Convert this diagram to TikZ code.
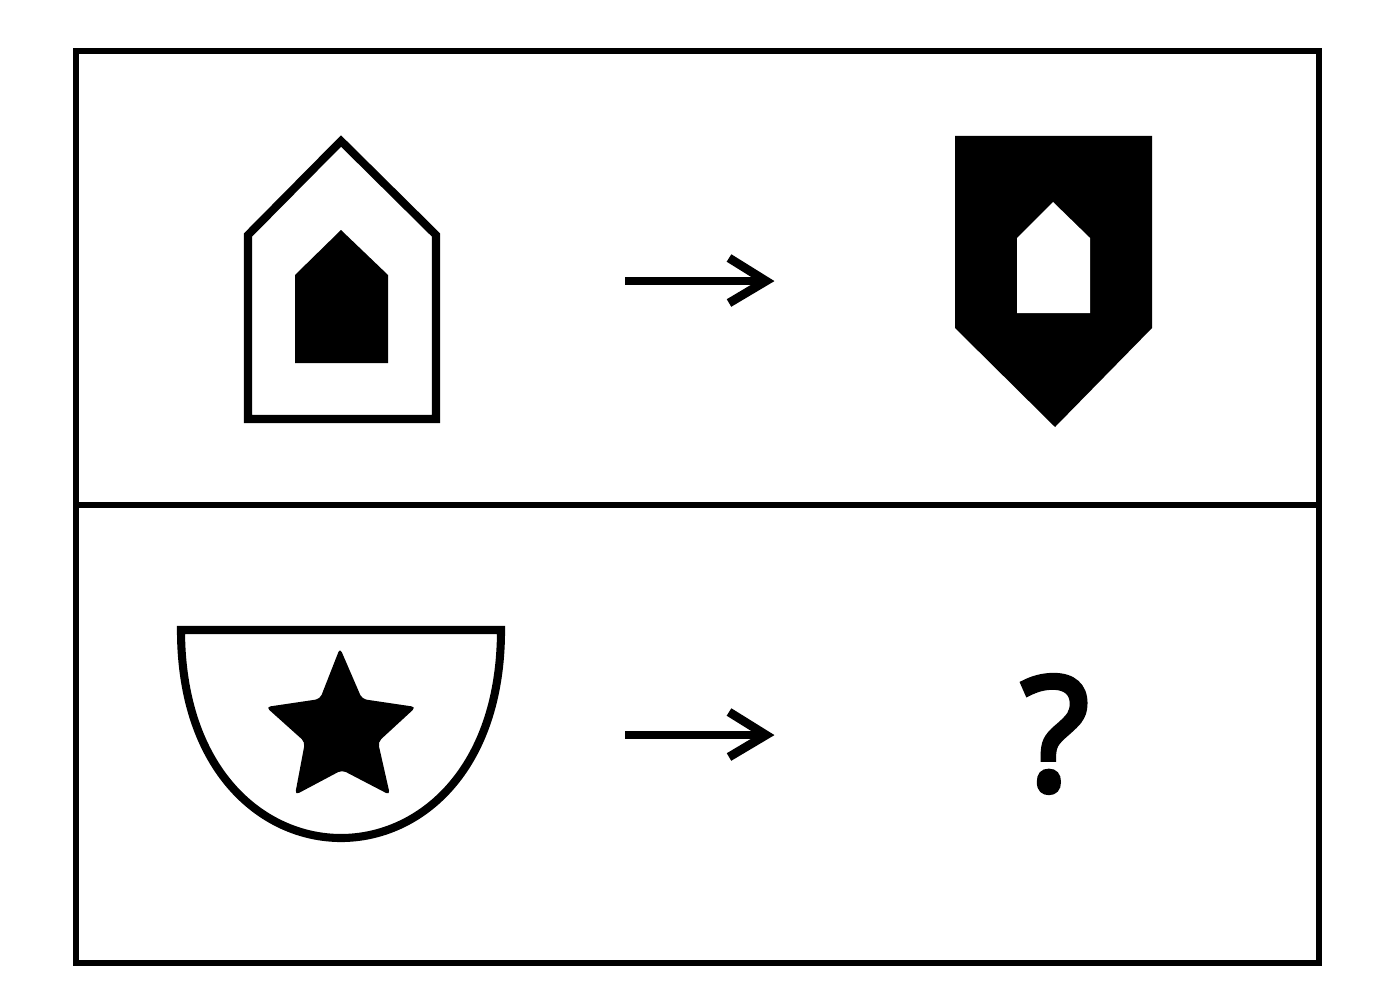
\documentclass[tikz,border=0pt]{standalone}
\usepackage{fontspec}
\newfontfamily\qfont[FakeBold=3.5]{Open Sans}
\begin{document}
\begin{tikzpicture}[x=0.02cm, y=-0.02cm,
  frameline/.style={line width=2.9pt},
  thickline/.style={line width=4.6pt, line join=miter},
  arrowline/.style={line width=5pt, line join=miter}]
  % page
  \fill[white] (0,0) rectangle (1392,1000);
  % frame and divider
  \draw[frameline] (76,51) rectangle (1319,963);
  \coordinate (L) at (76,505);
  \coordinate (R) at (1319,505);
  \draw[frameline] (L) -- (R);
  % top left: outlined house with a solid one inside
  \draw[thickline] (248,235) -- (341,141) -- (436,235) -- (436,419) -- (248,419) -- cycle;
  \fill (295,275) -- (341,230) -- (388,275) -- (388,363) -- (295,363) -- cycle;
  % top arrow
  \coordinate (A1) at (625,281);
  \coordinate (B1) at (766,281);
  \draw[arrowline] (A1) -- (B1);
  \draw[arrowline] (729,258) -- (B1) -- (729,303);
  % top right: solid pennant with a hollow house
  \fill (955,136) -- (1152,136) -- (1152,328) -- (1055,427) -- (955,328) -- cycle;
  \fill[white] (1017,238) -- (1053,202) -- (1090,238) -- (1090,313) -- (1017,313) -- cycle;
  % bottom left: shield with a star
  \draw[thickline] (181,630) -- (501,630)
    .. controls (501,770) and (420,838) .. (341,838)
    .. controls (262,838) and (181,770) .. cycle;
  \fill[rounded corners=2.5] (340,648) -- (362,699) -- (416,707) -- (378,742) -- (390,795)
    -- (342,770) -- (295,795) -- (305,742) -- (266,707) -- (320,699) -- cycle;
  % bottom arrow
  \coordinate (A2) at (625,735);
  \coordinate (B2) at (766,735);
  \draw[arrowline] (A2) -- (B2);
  \draw[arrowline] (729,712) -- (B2) -- (729,757);
  % bottom right: unknown
  \node[font=\qfont\fontsize{90}{90}\selectfont, inner sep=0pt] (Q) at (1055,734) {?};
\end{tikzpicture}
\end{document}
